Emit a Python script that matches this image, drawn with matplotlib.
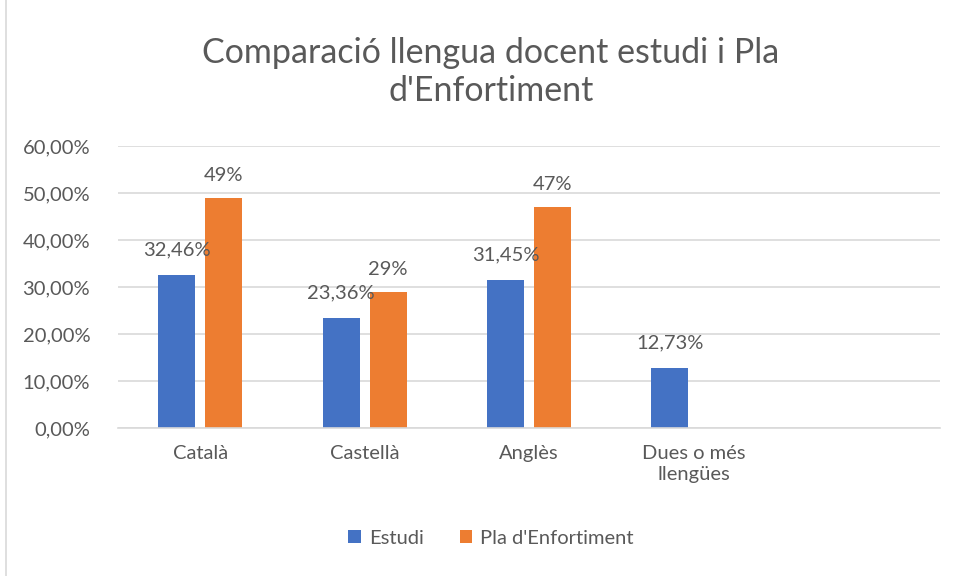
import matplotlib
matplotlib.use("Agg")
import matplotlib.pyplot as plt
import numpy as np

categories = ["Català", "Castellà", "Anglès", "Dues o més\nllengües", ""]
estudi = [32.46, 23.36, 31.45, 12.73, None]
pla = [49, 29, 47, None, None]
estudi_labels = ["32,46%", "23,36%", "31,45%", "12,73%"]
pla_labels = ["49%", "29%", "47%"]
yticks = [0, 10, 20, 30, 40, 50, 60]

plt.rcParams['font.family'] = ['Lato', 'DejaVu Sans']
text_col = "#595959"
blue = "#4472C4"
orange = "#ED7D31"
fs = 14.5

fig = plt.figure(figsize=(9.57, 5.76), dpi=100)
ax = fig.add_axes([118/957, 1 - 428/576, 822/957, (428 - 146)/576])

x = np.arange(len(categories))
w = 0.225
gap = 0.03
ex = [i for i, v in enumerate(estudi) if v is not None]
px = [i for i, v in enumerate(pla) if v is not None]
ax.bar(x[ex] - w/2 - gap, [estudi[i] for i in ex], w, color=blue, label="Estudi")
ax.bar(x[px] + w/2 + gap, [pla[i] for i in px], w, color=orange, label="Pla d'Enfortiment")

for i, t in zip(ex, estudi_labels):
    ax.annotate(t, (x[i] - w/2 - gap, estudi[i]), xytext=(0, 12), textcoords="offset points",
                ha="center", va="bottom", fontsize=fs, color=text_col)
for i, t in zip(px, pla_labels):
    ax.annotate(t, (x[i] + w/2 + gap, pla[i]), xytext=(0, 10), textcoords="offset points",
                ha="center", va="bottom", fontsize=fs, color=text_col)

ax.set_xlim(-0.5, len(categories) - 0.5)
ax.set_ylim(0, 60)
ax.set_yticks(yticks)
ax.set_yticklabels([f"{v},00%" for v in yticks], fontsize=fs, color=text_col)
ax.set_xticks(x)
ax.set_xticklabels(categories, fontsize=fs, color=text_col, linespacing=1.3)
ax.tick_params(length=0, pad=12)
ax.tick_params(axis="y", pad=20)
ax.yaxis.grid(True, color="#d9d9d9", linewidth=1.2)
ax.set_axisbelow(True)
for s in ["top", "right", "left"]:
    ax.spines[s].set_visible(False)
ax.spines["bottom"].set_color("#d9d9d9")
ax.spines["bottom"].set_linewidth(1.2)

fig.text(0.513, 1 - 72/576, "Comparació llengua docent estudi i Pla\nd'Enfortiment",
         ha="center", va="center", fontsize=24.5, color=text_col, linespacing=1.25)

fig.legend(loc="center", bbox_to_anchor=(0.513, 1 - 538/576), ncol=2, frameon=False,
           fontsize=fs, labelcolor=text_col, handlelength=0.6, handleheight=0.6,
           columnspacing=1.8, handletextpad=0.4)

fig.add_artist(plt.Line2D([6/957, 6/957], [0, 1], color="#d9d9d9", linewidth=1.2))

fig.savefig("out.png", dpi=100)
